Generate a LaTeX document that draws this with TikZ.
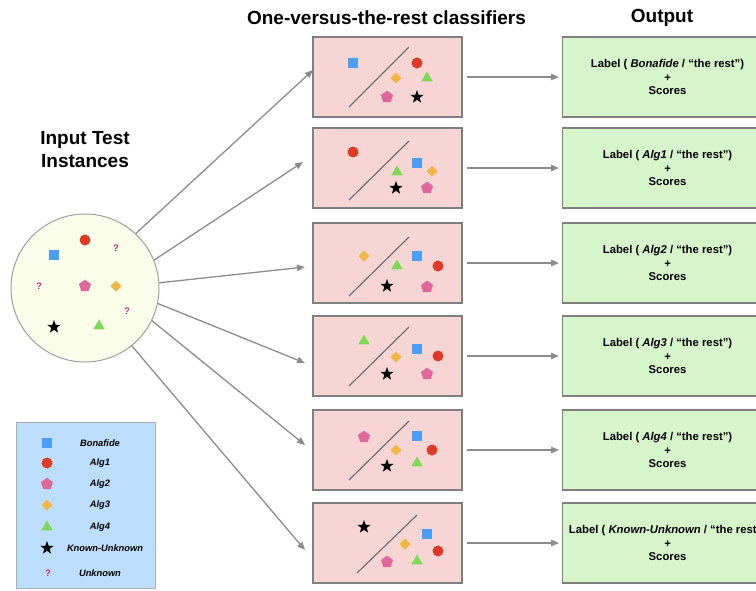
\documentclass[tikz,border=0pt]{standalone}
\usepackage{fontspec}
\setmainfont{Liberation Sans}
\usetikzlibrary{arrows.meta,calc}
\definecolor{cblue}{RGB}{74,159,245}
\definecolor{cred}{RGB}{222,58,39}
\definecolor{cpink}{RGB}{224,103,158}
\definecolor{cyel}{RGB}{242,184,67}
\definecolor{cgreen}{RGB}{126,217,87}
\definecolor{cq}{RGB}{194,48,122}
\definecolor{boxpink}{RGB}{248,213,213}
\definecolor{boxgreen}{RGB}{214,245,203}
\definecolor{circfill}{RGB}{251,253,235}
\definecolor{legfill}{RGB}{188,221,251}
\definecolor{arrgray}{RGB}{140,140,140}
\definecolor{bordgray}{RGB}{127,127,127}
\definecolor{linegray}{RGB}{112,112,112}
\definecolor{circgray}{RGB}{160,160,160}
\definecolor{leggray}{RGB}{176,176,176}
\tikzset{
  psq/.pic={\fill[cblue] (-5,-5) rectangle (5,5);},
  pci/.pic={\fill[cred] (0,0) circle[radius=5.5];},
  ppe/.pic={\fill[cpink] (-90:6.3)--(-18:6.3)--(54:6.3)--(126:6.3)--(198:6.3)--cycle;},
  pdi/.pic={\fill[cyel] (0,-5.5)--(5.5,0)--(0,5.5)--(-5.5,0)--cycle;},
  ptr/.pic={\fill[cgreen] (-90:6.6)--(30:6.6)--(150:6.6)--cycle;},
  pst/.pic={\fill[black] (-90:7)--(-54:2.8)--(-18:7)--(18:2.8)--(54:7)--(90:2.8)--(126:7)--(162:2.8)--(198:7)--(234:2.8)--cycle;},
  cbox/.style={draw=bordgray, fill=boxpink, line width=1.1pt, minimum width=149, minimum height=80, inner sep=0pt},
  obox/.style={draw=bordgray, fill=boxgreen, line width=1.1pt, minimum width=210, minimum height=80, anchor=west, align=center,
     inner sep=0pt, font=\bfseries\fontsize{11.3}{13.5}\selectfont},
  sepline/.style={draw=linegray, line width=1.2pt},
  arr/.style={draw=arrgray, line width=1.3pt, -{Triangle[length=8,width=6.5]}},
  qm/.style={text=cq, font=\bfseries\fontsize{9.5}{10}\selectfont, inner sep=0pt},
  legtxt/.style={font=\bfseries\itshape\fontsize{9.3}{10}\selectfont, inner sep=0pt},
  title/.style={font=\bfseries\fontsize{19}{23}\selectfont, align=center, inner sep=0pt},
}
\begin{document}
\begin{tikzpicture}[x=1pt,y=-1pt]
\useasboundingbox (0,0) rectangle (756,590);
\clip (0,0) rectangle (756,590);

% titles
\node[title] (t1) at (386.5,18) {One-versus-the-rest classifiers};
\node[title] (t2) at (662,18) {Output};
\node[title] (t3) at (85,150) {Input Test\\Instances};

% input circle
\node[circle, draw=circgray, fill=circfill, line width=1pt, minimum size=148, inner sep=0pt] (circ) at (85,288) {};
\pic at (54,255) {psq};
\pic at (85,240) {pci};
\node[qm] (q1) at (116,248) {?};
\node[qm] (q2) at (39,286) {?};
\pic at (85,286) {ppe};
\pic at (116,286) {pdi};
\node[qm] (q3) at (127,311) {?};
\pic at (54,327) {pst};
\pic at (99,326) {ptr};

% legend
\node[draw=leggray, fill=legfill, line width=1pt, minimum width=139, minimum height=166, inner sep=0pt] (leg) at (85.5,505) {};
\pic at (47,443) {psq}; \node[legtxt] (l1) at (100,443) {Bonafide};
\pic at (47,463) {pci}; \node[legtxt] (l2) at (100,463) {Alg1};
\pic at (47,484) {ppe}; \node[legtxt] (l3) at (100,484) {Alg2};
\pic at (47,505) {pdi}; \node[legtxt] (l4) at (100,505) {Alg3};
\pic at (47,527) {ptr}; \node[legtxt] (l5) at (100,527) {Alg4};
\pic at (47,548) {pst}; \node[legtxt] (l6) at (105,548) {Known-Unknown};
\node[qm] (lq) at (48,573) {?}; \node[legtxt] (l7) at (100,573) {Unknown};

% classifier boxes
\node[cbox] (c1) at (387.5,77) {};
\node[cbox] (c2) at (387.5,168) {};
\node[cbox] (c3) at (387.5,263) {};
\node[cbox] (c4) at (387.5,356) {};
\node[cbox] (c5) at (387.5,450) {};
\node[cbox] (c6) at (387.5,543) {};

\draw[sepline] (349,107) -- (409,47);
\draw[sepline] (349,200) -- (409,141);
\draw[sepline] (349,296) -- (409,237);
\draw[sepline] (349,386) -- (409,327);
\draw[sepline] (349,480) -- (409,421);
\draw[sepline] (357,573) -- (417,515);

% box 1
\pic at (353,63) {psq}; \pic at (417,63) {pci}; \pic at (396,78) {pdi};
\pic at (427,78) {ptr}; \pic at (387,97) {ppe}; \pic at (417,97) {pst};
% box 2
\pic at (353,152) {pci}; \pic at (417,163) {psq}; \pic at (432,171) {pdi};
\pic at (397,172) {ptr}; \pic at (396,188) {pst}; \pic at (427,188) {ppe};
% box 3
\pic at (364,256) {pdi}; \pic at (417,256) {psq}; \pic at (397,266) {ptr};
\pic at (438,266) {pci}; \pic at (387,286) {pst}; \pic at (427,287) {ppe};
% box 4
\pic at (364,341) {ptr}; \pic at (417,349) {psq}; \pic at (396,357) {pdi};
\pic at (438,356) {pci}; \pic at (387,374) {pst}; \pic at (427,374) {ppe};
% box 5
\pic at (364,437) {ppe}; \pic at (417,436) {psq}; \pic at (396,450) {pdi};
\pic at (432,450) {pci}; \pic at (387,466) {pst}; \pic at (417,463) {ptr};
% box 6
\pic at (364,527) {pst}; \pic at (427,534) {psq}; \pic at (405,544) {pdi};
\pic at (438,551) {pci}; \pic at (387,562) {ppe}; \pic at (417,561) {ptr};

% output boxes
\node[obox] (o1) at (562,77) {Label ( \textit{Bonafide} / “the rest”)\\+\\Scores};
\node[obox] (o2) at (562,168) {Label ( \textit{Alg1} / “the rest”)\\+\\Scores};
\node[obox] (o3) at (562,263) {Label ( \textit{Alg2} / “the rest”)\\+\\Scores};
\node[obox] (o4) at (562,356) {Label ( \textit{Alg3} / “the rest”)\\+\\Scores};
\node[obox] (o5) at (562,450) {Label ( \textit{Alg4} / “the rest”)\\+\\Scores};
\node[obox] (o6) at (562,543) {Label ( \textit{Known-Unknown} / “the rest”)\\+\\Scores};

% arrows input -> classifiers
\coordinate (e1) at (313,70);
\coordinate (e2) at (303,162);
\coordinate (e3) at (305,267);
\coordinate (e4) at (305,363);
\coordinate (e5) at (305,445);
\coordinate (e6) at (305,550);
\draw[arr] (circ.47) -- (e1);
\draw[arr] (circ.22) -- (e2);
\draw[arr] (circ.4) -- (e3);
\draw[arr] (circ.-12) -- (e4);
\draw[arr] (circ.-26) -- (e5);
\draw[arr] (circ.-51) -- (e6);

% arrows classifiers -> outputs
\foreach \i in {1,...,6}{
  \draw[arr, shorten <=4pt, shorten >=3pt] (c\i.east) -- (o\i.west);
}
\end{tikzpicture}
\end{document}
